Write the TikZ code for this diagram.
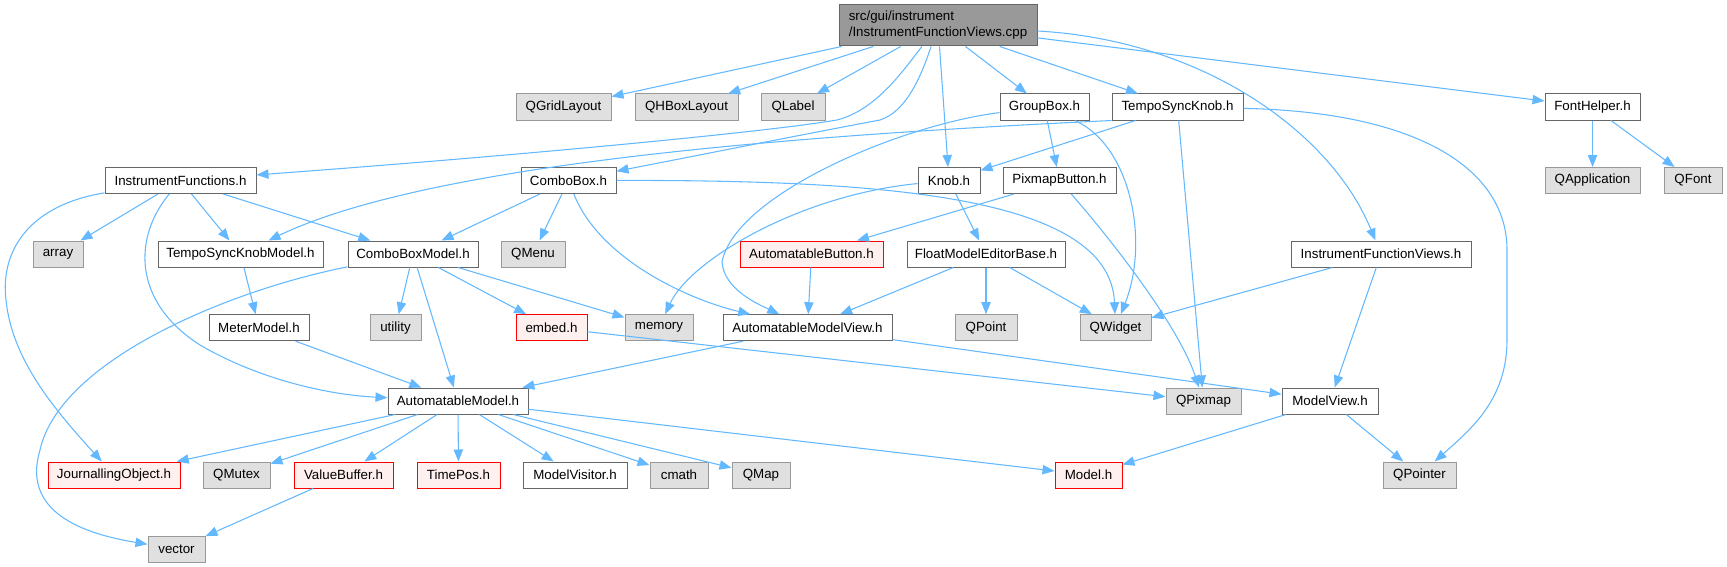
\documentclass[tikz,border=0pt]{standalone}
\usepackage{fontspec}
\setmainfont{Liberation Sans}
\usepackage{xcolor}
\usetikzlibrary{arrows.meta}

\definecolor{edgeblue}{HTML}{63B8FF}

\begin{document}
\begin{tikzpicture}[
    x=0.75pt, y=-0.75pt,
    font=\fontsize{10}{12}\selectfont,
    file/.style={rectangle, draw=black!60, fill=white, line width=0.75pt, minimum height=19.5pt, inner sep=0pt},
    sys/.style={file, draw=black!40, fill=black!12},
    trunc/.style={file, draw=red, fill=red!6},
    main/.style={file, draw=black!60, fill=black!40, minimum height=30.75pt, align=left},
    bw/.style={minimum width=#1*0.75pt},
    arrow/.style={->, >={Triangle[length=9pt, width=7pt]}, draw=edgeblue, line width=0.8pt}
]
    \useasboundingbox (0,0) rectangle (1727,567);

    % Nodes
    \node (cpp) [main, bw=198] at (938,25.5) {src/gui/instrument\\/InstrumentFunctionViews.cpp};

    \node (qgrid) [sys, bw=95] at (563.5,107) {QGridLayout};
    \node (qhbox) [sys, bw=103] at (686.5,107) {QHBoxLayout};
    \node (qlabel) [sys, bw=64] at (793,107) {QLabel};
    \node (groupbox) [file, bw=89] at (1044.5,107) {GroupBox.h};
    \node (tsknob) [file, bw=131] at (1177.5,107) {TempoSyncKnob.h};
    \node (fonthelper) [file, bw=95] at (1592.5,107) {FontHelper.h};

    \node (instfunc) [file, bw=151] at (180.5,180.5) {InstrumentFunctions.h};
    \node (combobox) [file, bw=95] at (568.5,180.5) {ComboBox.h};
    \node (knob) [file, bw=62] at (949,180.5) {Knob.h};
    \node (pixbutton) [file, bw=113] at (1059.5,180.5) {PixmapButton.h};
    \node (qapp) [sys, bw=95] at (1592.5,180.5) {QApplication};
    \node (qfont) [sys, bw=58] at (1693,180.5) {QFont};

    \node (array) [sys, bw=50] at (58,254) {array};
    \node (tsmodel) [file, bw=165] at (240.5,254) {TempoSyncKnobModel.h};
    \node (cbmodel) [file, bw=130] at (413,254) {ComboBoxModel.h};
    \node (qmenu) [sys, bw=64] at (533,254) {QMenu};
    \node (autobutton) [trunc, bw=143] at (811.5,254) {AutomatableButton.h};
    \node (floatbase) [file, bw=158] at (986,254) {FloatModelEditorBase.h};
    \node (ifviews) [file, bw=180] at (1381,254) {InstrumentFunctionViews.h};

    \node (meter) [file, bw=100] at (259,327.7) {MeterModel.h};
    \node (utility) [sys, bw=51] at (395.5,327.7) {utility};
    \node (embed) [trunc, bw=71] at (551.5,327.7) {embed.h};
    \node (memory) [sys, bw=68] at (659,327.7) {memory};
    \node (amview) [file, bw=169] at (807.5,327.7) {AutomatableModelView.h};
    \node (qpoint) [sys, bw=62] at (986,327.7) {QPoint};
    \node (qwidget) [sys, bw=71] at (1115.5,327.7) {QWidget};

    \node (automodel) [file, bw=140] at (458,401) {AutomatableModel.h};
    \node (qpixmap) [sys, bw=75] at (1203.5,401) {QPixmap};
    \node (modelview) [file, bw=96] at (1330,401) {ModelView.h};

    \node (journal) [trunc, bw=132] at (114,475) {JournallingObject.h};
    \node (qmutex) [sys, bw=67] at (236.5,475) {QMutex};
    \node (valuebuf) [trunc, bw=99] at (343.5,475) {ValueBuffer.h};
    \node (timepos) [trunc, bw=83] at (458.5,475) {TimePos.h};
    \node (visitor) [file, bw=104] at (575,475) {ModelVisitor.h};
    \node (cmath) [sys, bw=58] at (679,475) {cmath};
    \node (qmap) [sys, bw=58] at (761,475) {QMap};
    \node (model) [trunc, bw=67] at (1088.5,475) {Model.h};
    \node (qpointer) [sys, bw=73] at (1419.5,475) {QPointer};

    \node (vector) [sys, bw=57] at (176.5,549) {vector};

    % Includes of the .cpp
    \draw [arrow] (cpp) -- (qgrid);
    \draw [arrow] (cpp) -- (qhbox);
    \draw [arrow] (cpp) -- (qlabel);
    \draw [arrow] (cpp) .. controls (900,75) and (875,110) .. (837,120) .. controls (760,133) and (500,157) .. (instfunc);
    \draw [arrow] (cpp) .. controls (920,80) and (905,112) .. (880,120) .. controls (800,135) and (700,155) .. (combobox);
    \draw [arrow] (cpp) -- (knob);
    \draw [arrow] (cpp) -- (groupbox);
    \draw [arrow] (cpp) -- (tsknob);
    \draw [arrow] (cpp) .. controls (1200,40) and (1330,130) .. (ifviews);
    \draw [arrow] (cpp) -- (fonthelper);

    % Widgets
    \draw [arrow] (groupbox) -- (pixbutton);
    \draw [arrow] (groupbox) .. controls (900,125) and (735,195) .. (722,262) .. controls (724,290) and (760,305) .. (amview);
    \draw [arrow] (groupbox) .. controls (1130,145) and (1150,240) .. (qwidget);
    \draw [arrow] (tsknob.south west) .. controls (850,133) and (440,158) .. (tsmodel);
    \draw [arrow] (tsknob) -- (knob);
    \draw [arrow] (tsknob) -- (qpixmap);
    \draw [arrow] (tsknob) .. controls (1420,112) and (1507,170) .. (1507,250) -- (1507,340) .. controls (1507,400) and (1470,430) .. (qpointer);
    \draw [arrow] (fonthelper) -- (qapp);
    \draw [arrow] (fonthelper) -- (qfont);
    \draw [arrow] (combobox) -- (cbmodel);
    \draw [arrow] (combobox) -- (qmenu);
    \draw [arrow] (combobox) .. controls (600,260) and (690,300) .. (amview);
    \draw [arrow] (combobox) .. controls (880,180) and (1110,195) .. (qwidget);
    \draw [arrow] (knob) .. controls (800,195) and (690,260) .. (memory);
    \draw [arrow] (knob) -- (floatbase);
    \draw [arrow] (pixbutton) -- (autobutton);
    \draw [arrow] (pixbutton) .. controls (1120,250) and (1180,330) .. (qpixmap);

    % Models
    \draw [arrow] (instfunc) -- (array);
    \draw [arrow] (instfunc) -- (tsmodel);
    \draw [arrow] (instfunc) -- (cbmodel);
    \draw [arrow] (instfunc) .. controls (135,235) and (130,300) .. (200,345) .. controls (260,380) and (330,395) .. (automodel);
    \draw [arrow] (instfunc) .. controls (30,205) and (0,250) .. (6,300) .. controls (12,360) and (55,410) .. (journal);
    \draw [arrow] (tsmodel) -- (meter);
    \draw [arrow] (cbmodel) .. controls (230,290) and (60,360) .. (40,450) .. controls (25,500) and (60,530) .. (vector);
    \draw [arrow] (cbmodel) -- (utility);
    \draw [arrow] (cbmodel) -- (automodel);
    \draw [arrow] (cbmodel) -- (embed);
    \draw [arrow] (cbmodel) -- (memory);
    \draw [arrow] (autobutton) -- (amview);
    \draw [arrow] (floatbase) -- (amview);
    \draw [arrow] (floatbase) -- (qpoint);
    \draw [arrow] (floatbase) -- (qwidget);
    \draw [arrow] (ifviews) -- (qwidget);
    \draw [arrow] (ifviews) -- (modelview);
    \draw [arrow] (meter) -- (automodel);
    \draw [arrow] (embed) -- (qpixmap);
    \draw [arrow] (amview) -- (automodel);
    \draw [arrow] (amview) -- (modelview);
    \draw [arrow] (automodel) -- (journal);
    \draw [arrow] (automodel) -- (qmutex);
    \draw [arrow] (automodel) -- (valuebuf);
    \draw [arrow] (automodel) -- (timepos);
    \draw [arrow] (automodel) -- (visitor);
    \draw [arrow] (automodel) -- (cmath);
    \draw [arrow] (automodel) -- (qmap);
    \draw [arrow] (automodel) -- (model);
    \draw [arrow] (valuebuf) -- (vector);
    \draw [arrow] (modelview) -- (model);
    \draw [arrow] (modelview) -- (qpointer);

\end{tikzpicture}
\end{document}
